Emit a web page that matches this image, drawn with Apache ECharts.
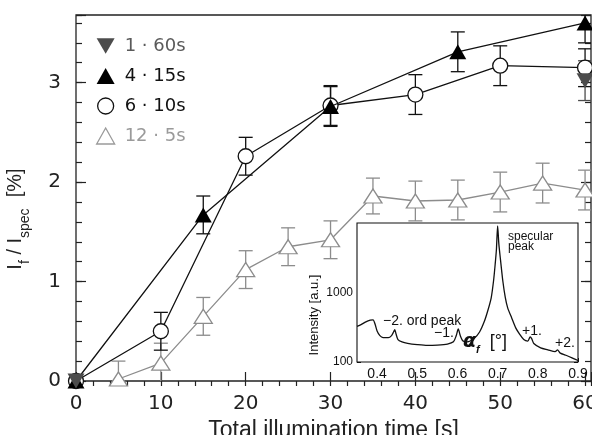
<!DOCTYPE html>
<html><head><meta charset="utf-8">
<script src="https://cdn.jsdelivr.net/npm/echarts@6/dist/echarts.min.js"></script>
<style>html,body{margin:0;padding:0;background:#fff}#c{width:592px;height:435px}</style>
</head><body><div id="c"></div>
<script>
// ---- main plot data ----
const names = ['1 · 60s', '4 · 15s', '6 · 10s', '12 · 5s'];
const t1 = [0, 60];
const v1 = [0, 3.02];
const e1 = [0, 0.2];
const t4 = [0, 15, 30, 45, 60];
const v4 = [0, 1.67, 2.76, 3.31, 3.60];
const e4 = [0, 0.19, 0.2, 0.2, 0.2];
const t6 = [0, 10, 20, 30, 40, 50, 60];
const v6 = [0, 0.50, 2.26, 2.77, 2.88, 3.17, 3.15];
const e6 = [0, 0.19, 0.19, 0.2, 0.2, 0.2, 0.19];
const t12 = [5, 10, 15, 20, 25, 30, 35, 40, 45, 50, 55, 60];
const v12 = [0.02, 0.18, 0.65, 1.12, 1.35, 1.42, 1.86, 1.81, 1.82, 1.90, 1.99, 1.92];
const e12 = [0.18, 0.2, 0.19, 0.19, 0.19, 0.19, 0.18, 0.2, 0.2, 0.2, 0.2, 0.2];
const xTicksMain = [0, 10, 20, 30, 40, 50, 60];
const yTicksMain = [0, 1, 2, 3];
// ---- inset data ----
const insetX = [0.350,0.360,0.372,0.383,0.390,0.395,0.400,0.407,0.415,0.428,0.436,0.441,0.444,0.447,0.452,0.462,0.476,0.500,0.525,0.550,0.575,0.590,0.597,0.602,0.607,0.614,0.624,0.642,0.655,0.667,0.676,0.684,0.690,0.694,0.697,0.700,0.703,0.707,0.713,0.719,0.725,0.735,0.745,0.755,0.765,0.775,0.781,0.785,0.790,0.807,0.825,0.843,0.849,0.856,0.870,0.885,0.900];
const insetI = [325,345,378,400,405,350,280,240,225,224,240,270,292,255,210,195,186,178,173,175,181,195,240,300,240,200,195,220,270,385,560,840,1500,2600,4200,9100,5000,3000,1450,850,600,430,310,250,210,200,230,215,185,160,150,141,149,134,125,115,105];
const insetXLabels = ['0.4', '0.5', '0.6', '0.7', '0.8', '0.9'];
const insetYLabels = [100, 1000];
const insetYTicks = [100,200,300,400,500,600,700,800,900,1000,2000,3000,4000,5000,6000,7000,8000,9000,10000];

const zip = (a, b, c) => a.map((x, i) => c ? [x, b[i], c[i]] : [x, b[i]]);

const C_BLACK = '#111';
const C_DARK = '#4c4c4c';
const C_GRAY = '#8c8c8c';
const NUMFONT = 'DejaVu Sans';

function errRender(color) {
  return function (params, api) {
    const x = api.value(0), y = api.value(1), e = api.value(2);
    if (!e) return null;
    const top = api.coord([x, y + e]);
    const bot = api.coord([x, y - e]);
    const hw = 7;
    const style = { stroke: color, lineWidth: 1.3, fill: null };
    return {
      type: 'group',
      children: [
        { type: 'line', shape: { x1: top[0], y1: top[1], x2: bot[0], y2: bot[1] }, style: style },
        { type: 'line', shape: { x1: top[0] - hw, y1: top[1], x2: top[0] + hw, y2: top[1] }, style: style },
        { type: 'line', shape: { x1: bot[0] - hw, y1: bot[1], x2: bot[0] + hw, y2: bot[1] }, style: style }
      ]
    };
  };
}

const chart = echarts.init(document.getElementById('c'), null, { renderer: 'canvas' });

const isInt = v => Math.abs(v - Math.round(v)) < 1e-6;
const mainGrid = { left: 76, top: 15, width: 515, height: 366, show: true, borderColor: '#222', borderWidth: 1.3, backgroundColor: '#fff', outerBoundsMode: 'none', containLabel: false };
const insetGrid = { left: 357, top: 223, width: 221, height: 139, show: true, borderColor: '#111', borderWidth: 1.1, backgroundColor: '#fff', z: 5, outerBoundsMode: 'none', containLabel: false };

const xMax = 60.7, yMax = 3.68;

const option = {
  backgroundColor: '#fff',
  animation: false,
  grid: [mainGrid, insetGrid],
  xAxis: [
    {
      type: 'value', gridIndex: 0, min: 0, max: xMax, interval: 10,
      axisLine: { show: false }, splitLine: { show: false },
      axisTick: { show: true, inside: true, length: 9, lineStyle: { color: '#222', width: 1.2 } },
      axisLabel: { margin: 13, fontSize: 20, fontFamily: NUMFONT, color: '#222', hideOverlap: false,
        formatter: v => (isInt(v) && xTicksMain.indexOf(Math.round(v)) >= 0) ? String(Math.round(v)) : '' },
      name: 'Total illumination time [s]', nameLocation: 'middle', nameGap: 29,
      nameTextStyle: { fontSize: 23, fontFamily: 'Liberation Sans', color: '#222' }
    },
    {
      type: 'value', gridIndex: 0, min: 0, max: xMax, interval: 2,
      axisLine: { show: false }, splitLine: { show: false }, axisLabel: { show: false },
      axisTick: { show: true, inside: true, length: 5, lineStyle: { color: '#222', width: 1.2 } }
    },
    {
      type: 'value', gridIndex: 1, min: 0.35, max: 0.9, interval: 0.05,
      axisLine: { show: false }, splitLine: { show: false },
      axisTick: { show: true, inside: true, length: 4, lineStyle: { color: '#111', width: 1 } },
      minorTick: { show: true, splitNumber: 2, length: 2.5, lineStyle: { color: '#111', width: 1 } },
      axisLabel: { margin: 5, fontSize: 14, fontFamily: 'Liberation Sans', color: '#111',
        formatter: v => { const s = v.toFixed(1); return (Math.abs(v * 10 - Math.round(v * 10)) < 1e-6 && insetXLabels.indexOf(s) >= 0) ? s : ''; } }
    }
  ],
  yAxis: [
    {
      type: 'value', gridIndex: 0, min: 0, max: yMax, interval: 1, position: 'left',
      axisLine: { show: false }, splitLine: { show: false },
      axisTick: { show: true, inside: true, length: 10, lineStyle: { color: '#222', width: 1.2 } },
      axisLabel: { margin: 15, fontSize: 20, fontFamily: NUMFONT, color: '#222',
        formatter: v => (isInt(v) && yTicksMain.indexOf(Math.round(v)) >= 0) ? String(Math.round(v)) : '' }
    },
    {
      type: 'value', gridIndex: 0, min: 0, max: yMax, interval: 0.2, position: 'left',
      axisLine: { show: false }, splitLine: { show: false }, axisLabel: { show: false },
      axisTick: { show: true, inside: true, length: 6, lineStyle: { color: '#222', width: 1.2 } }
    },
    {
      type: 'value', gridIndex: 0, min: 0, max: yMax, interval: 1, position: 'right',
      axisLine: { show: false }, splitLine: { show: false }, axisLabel: { show: false },
      axisTick: { show: true, inside: true, length: 10, lineStyle: { color: '#222', width: 1.2 } }
    },
    {
      type: 'value', gridIndex: 0, min: 0, max: yMax, interval: 0.2, position: 'right',
      axisLine: { show: false }, splitLine: { show: false }, axisLabel: { show: false },
      axisTick: { show: true, inside: true, length: 6, lineStyle: { color: '#222', width: 1.2 } }
    },
    {
      type: 'log', logBase: 10, gridIndex: 1, min: 100, max: 10000, position: 'left',
      axisLine: { show: false }, splitLine: { show: false },
      axisTick: { show: true, inside: true, length: 4, customValues: insetYTicks, lineStyle: { color: '#111', width: 1 } },
      axisLabel: { margin: 4, fontSize: 12, fontFamily: 'Liberation Sans', color: '#111', customValues: insetYLabels,
        formatter: v => (insetYLabels.indexOf(Math.round(v)) >= 0 ? String(Math.round(v)) : '') }
    },
    {
      type: 'log', logBase: 10, gridIndex: 1, min: 100, max: 10000, position: 'right',
      axisLine: { show: false }, splitLine: { show: false }, axisLabel: { show: false },
      axisTick: { show: true, inside: true, length: 4, customValues: insetYTicks, lineStyle: { color: '#111', width: 1 } }
    }
  ],
  legend: {
    orient: 'vertical', left: 91, top: 31, itemWidth: 18, itemHeight: 16, itemGap: 10,
    textStyle: { fontSize: 18, fontFamily: NUMFONT, lineHeight: 20, padding: [0, 0, 0, 5] },
    selectedMode: false,
    data: [
      { name: names[0], icon: 'path://M0,0 L20,0 L10,17 Z', itemStyle: { color: C_DARK, borderWidth: 0 }, textStyle: { color: '#5a5a5a' } },
      { name: names[1], icon: 'triangle', itemStyle: { color: '#000', borderWidth: 0 }, textStyle: { color: '#111' } },
      { name: names[2], icon: 'circle', itemStyle: { color: '#fff', borderColor: '#111', borderWidth: 1.3 }, textStyle: { color: '#111' } },
      { name: names[3], icon: 'triangle', itemStyle: { color: '#fff', borderColor: '#9a9a9a', borderWidth: 1.3 }, textStyle: { color: '#9a9a9a' } }
    ]
  },
  series: [
    { type: 'custom', name: 'err12', xAxisIndex: 0, yAxisIndex: 0, clip: true, z: 2, renderItem: errRender(C_GRAY), data: zip(t12, v12, e12) },
    { type: 'custom', name: 'err6', xAxisIndex: 0, yAxisIndex: 0, clip: true, z: 2, renderItem: errRender(C_BLACK), data: zip(t6, v6, e6) },
    { type: 'custom', name: 'err4', xAxisIndex: 0, yAxisIndex: 0, clip: true, z: 2, renderItem: errRender(C_BLACK), data: zip(t4, v4, e4) },
    { type: 'custom', name: 'err1', xAxisIndex: 0, yAxisIndex: 0, clip: true, z: 2, renderItem: errRender(C_DARK), data: zip(t1, v1, e1) },
    { type: 'line', name: names[3], xAxisIndex: 0, yAxisIndex: 0, z: 3, data: zip(t12, v12),
      symbol: 'triangle', symbolSize: [18, 14], showAllSymbol: true,
      lineStyle: { color: C_GRAY, width: 1.3 }, itemStyle: { color: '#fff', borderColor: C_GRAY, borderWidth: 1.3 } },
    { type: 'line', name: names[2], xAxisIndex: 0, yAxisIndex: 0, z: 4, data: zip(t6, v6),
      symbol: 'circle', symbolSize: 15, showAllSymbol: true,
      lineStyle: { color: C_BLACK, width: 1.3 }, itemStyle: { color: '#fff', borderColor: C_BLACK, borderWidth: 1.3 } },
    { type: 'line', name: names[1], xAxisIndex: 0, yAxisIndex: 0, z: 5, data: zip(t4, v4),
      symbol: 'triangle', symbolSize: [17, 15], showAllSymbol: true,
      lineStyle: { color: C_BLACK, width: 1.3 }, itemStyle: { color: '#000', borderWidth: 0 } },
    { type: 'line', name: names[0], xAxisIndex: 0, yAxisIndex: 0, z: 6, data: zip(t1, v1),
      symbol: 'triangle', symbolRotate: 180, symbolSize: [17, 15], showAllSymbol: true,
      lineStyle: { width: 0, opacity: 0 }, itemStyle: { color: C_DARK, borderWidth: 0 } },
    { type: 'line', name: 'inset', xAxisIndex: 2, yAxisIndex: 4, z: 10, data: zip(insetX, insetI),
      symbol: 'none', smooth: 0.25, lineStyle: { color: '#111', width: 1.3 } }
  ],
  graphic: [
    { type: 'text', z: 100, x: 22, y: 219, rotation: Math.PI / 2,
      style: {
        text: '{m|I}{s|f}{m| / }{m|I}{s|spec}{m|  [%]}',
        align: 'center', verticalAlign: 'middle', fill: '#222',
        rich: {
          m: { fontSize: 20, fontFamily: 'Liberation Sans', fill: '#222', padding: [0, 0, 7, 0], verticalAlign: 'bottom', lineHeight: 20 },
          s: { fontSize: 14, fontFamily: 'Liberation Sans', fill: '#222', verticalAlign: 'bottom', lineHeight: 14 }
        }
      } },
    { type: 'text', z: 100, x: 314, y: 315, rotation: Math.PI / 2,
      style: { text: 'Intensity [a.u.]', align: 'center', verticalAlign: 'middle', fontSize: 13, fontFamily: 'Liberation Sans', fill: '#111' } },
    { type: 'text', z: 100, x: 508, y: 232,
      style: { text: 'specular\npeak', fontSize: 12, lineHeight: 10, fontFamily: 'Liberation Sans', fill: '#111' } },
    { type: 'text', z: 100, x: 383, y: 321,
      style: { text: '\u22122. ord peak', verticalAlign: 'middle', fontSize: 14, fontFamily: 'Liberation Sans', fill: '#111' } },
    { type: 'text', z: 100, x: 434, y: 333,
      style: { text: '\u22121.', verticalAlign: 'middle', fontSize: 14, fontFamily: 'Liberation Sans', fill: '#111' } },
    { type: 'text', z: 100, x: 522, y: 331,
      style: { text: '+1.', verticalAlign: 'middle', fontSize: 14, fontFamily: 'Liberation Sans', fill: '#111' } },
    { type: 'text', z: 100, x: 555, y: 343,
      style: { text: '+2.', verticalAlign: 'middle', fontSize: 14, fontFamily: 'Liberation Sans', fill: '#111' } },
    { type: 'text', z: 100, x: 463, y: 346,
      style: {
        text: '{a|\u03b1}{f|f}{b|  [°]}', verticalAlign: 'middle', fill: '#111',
        rich: {
          a: { fontSize: 19, fontWeight: 'bold', fontStyle: 'italic', fontFamily: 'DejaVu Sans', fill: '#111', padding: [0, 0, 4, 0], verticalAlign: 'bottom', lineHeight: 19 },
          f: { fontSize: 11, fontStyle: 'italic', fontWeight: 'bold', fontFamily: 'Liberation Sans', fill: '#111', verticalAlign: 'bottom', lineHeight: 11 },
          b: { fontSize: 18, fontFamily: 'Liberation Sans', fill: '#111', padding: [0, 0, 4, 0], verticalAlign: 'bottom', lineHeight: 18 }
        }
      } }
  ]
};
chart.setOption(option);
</script>
</body></html>
